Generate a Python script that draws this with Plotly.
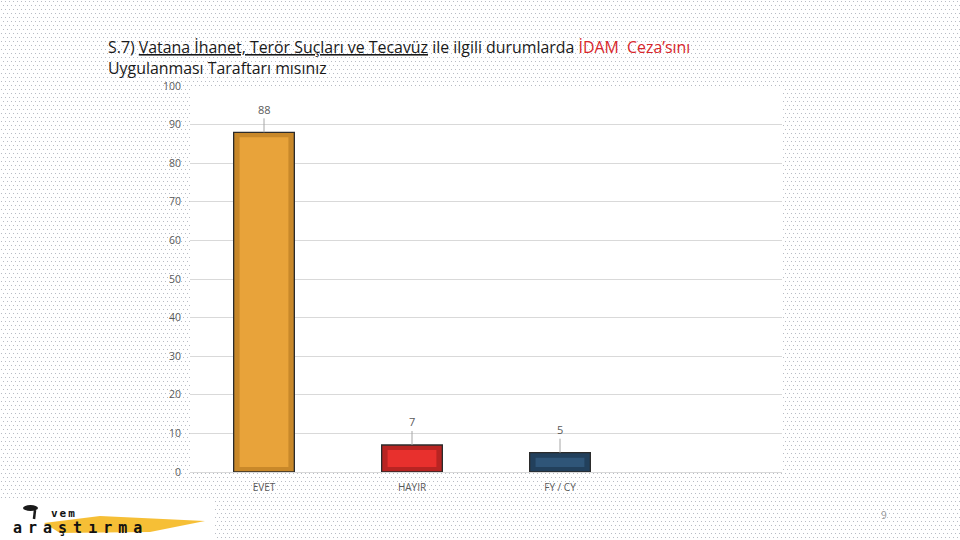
import base64
import plotly.graph_objects as go

# ---- data ----
categories = ["EVET", "HAYIR", "FY / CY"]
values = [88, 7, 5]
bar_colors = ["#E8A33A", "#E8302D", "#2F5578"]
edge_colors = ["#C8882A", "#B82422", "#22405C"]
y_ticks = [0, 10, 20, 30, 40, 50, 60, 70, 80, 90, 100]

W, H = 960, 540
ML, MR, MT, MB = 190, 178, 86, 68
pw, ph = W - ML - MR, H - MT - MB


def px_x(x):
    return (x - ML) / pw


def px_y(y):
    return (H - MB - y) / ph


# dotted slide background
svg = (
    f'<svg xmlns="http://www.w3.org/2000/svg" width="{W}" height="{H}">'
    '<defs><pattern id="p" width="4" height="8" patternUnits="userSpaceOnUse">'
    '<rect width="4" height="8" fill="#ffffff"/>'
    '<rect x="1" y="1" width="1" height="1" fill="#b8bcc4"/>'
    '<rect x="3" y="5" width="1" height="1" fill="#b8bcc4"/>'
    '</pattern></defs>'
    f'<rect width="{W}" height="{H}" fill="url(#p)"/></svg>'
)
svg_uri = "data:image/svg+xml;base64," + base64.b64encode(svg.encode()).decode()

fig = go.Figure()
# outer (bevel edge) bar
fig.add_trace(go.Bar(
    x=categories, y=values, width=0.41,
    marker=dict(color=edge_colors, line=dict(color="#2b2b2b", width=1.3)),
    hoverinfo="skip", showlegend=False,
))
# inner face
d = 1.3
fig.add_trace(go.Bar(
    x=categories, y=[v - 2 * d for v in values], base=[d] * len(values), width=0.33,
    marker=dict(color=bar_colors, line=dict(width=0)),
    hoverinfo="skip", showlegend=False,
))

annotations = []
for c, v in zip(categories, values):
    annotations.append(dict(
        x=c, y=v, xref="x", yref="y", text=str(v), showarrow=True,
        ax=0, ay=-23, arrowhead=0, arrowwidth=1, arrowcolor="#a6a6a6",
        standoff=0, font=dict(size=11, color="#595959", family="Open Sans"),
    ))

title_html = (
    'S.7) <u>Vatana İhanet, Terör Suçları ve Tecavüz</u> ile ilgili durumlarda '
    '<span style="color:#D7262B">İDAM  Ceza’sını</span><br>'
    'Uygulanması Taraftarı mısınız'
)
annotations.append(dict(
    x=px_x(106), y=px_y(34), xref="paper", yref="paper",
    xanchor="left", yanchor="top", align="left", showarrow=False,
    text=title_html, font=dict(size=15.9, color="#1a1a1a", family="Open Sans"),
))
# page number
annotations.append(dict(
    x=px_x(884), y=px_y(515), xref="paper", yref="paper",
    xanchor="center", yanchor="middle",
    text="9", showarrow=False, font=dict(size=10, color="#9a9a9a", family="Open Sans"),
))
# logo texts
annotations.append(dict(
    x=px_x(12), y=px_y(528), xref="paper", yref="paper",
    xanchor="left", yanchor="middle", borderpad=0,
    text='<b><span style="letter-spacing:6px">araştırma</span></b>',
    showarrow=False, font=dict(size=15, color="#111111", family="DejaVu Sans Mono"),
))
annotations.append(dict(
    x=px_x(50), y=px_y(513), xref="paper", yref="paper",
    xanchor="left", yanchor="middle", borderpad=0,
    text='<b><span style="letter-spacing:2px">vem</span></b>', showarrow=False,
    font=dict(size=11, color="#111111", family="DejaVu Sans Mono"),
))

shapes = [
    # white plot area over the dotted background
    dict(type="rect", xref="x domain", yref="y domain", x0=0, x1=1, y0=0, y1=1,
         fillcolor="#ffffff", line=dict(width=0), layer="below"),
    # logo white panel
    dict(type="rect", xref="paper", yref="paper",
         x0=px_x(0), x1=px_x(215), y0=px_y(539), y1=px_y(501),
         fillcolor="#ffffff", line=dict(width=0), layer="below"),
    # logo yellow brush
    dict(type="path", xref="paper", yref="paper",
         path=(f"M {px_x(44)},{px_y(523)} L {px_x(100)},{px_y(516)} L {px_x(205)},{px_y(521)} "
               f"L {px_x(150)},{px_y(532)} L {px_x(60)},{px_y(533)} Z"),
         fillcolor="#F5B820", opacity=0.9, line=dict(width=0), layer="below"),
    # logo 'i' dot and stem
    dict(type="circle", xref="paper", yref="paper",
         x0=px_x(23), x1=px_x(38), y0=px_y(511), y1=px_y(505),
         fillcolor="#1a1a1a", line=dict(width=0), layer="above"),
    dict(type="line", xref="paper", yref="paper",
         x0=px_x(35), x1=px_x(34), y0=px_y(510), y1=px_y(519),
         line=dict(color="#1a1a1a", width=2.5), layer="above"),
]

fig.update_layout(
    width=W, height=H,
    margin=dict(l=ML, r=MR, t=MT, b=MB),
    paper_bgcolor="#ffffff", plot_bgcolor="#ffffff",
    barmode="overlay", bargap=0.59,
    showlegend=False,
    images=[dict(source=svg_uri, xref="paper", yref="paper",
                 x=-ML / pw, y=1 + MT / ph, sizex=W / pw, sizey=H / ph,
                 sizing="stretch", xanchor="left", yanchor="top", layer="below")],
    shapes=shapes,
    annotations=annotations,
    xaxis=dict(type="category", range=[-0.5, 3.5], showgrid=False,
               showline=True, linecolor="#d9d9d9", linewidth=1, ticks="",
               ticklabelstandoff=6,
               tickfont=dict(size=10, color="#595959", family="Open Sans"),
               fixedrange=True),
    yaxis=dict(range=[0, 100], tickvals=y_ticks, showgrid=True,
               gridcolor="#d9d9d9", gridwidth=1, zeroline=False, showline=False,
               ticks="", ticklabelstandoff=8,
               tickfont=dict(size=10.5, color="#595959", family="Open Sans"),
               fixedrange=True),
)

fig.write_html("out.html", config={"displayModeBar": False},
               post_script="document.body.style.margin='0';")
